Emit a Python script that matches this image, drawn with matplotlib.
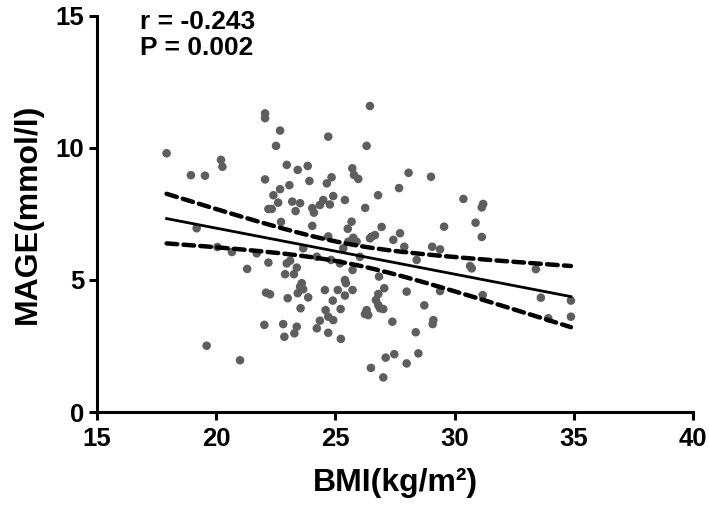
import numpy as np
import matplotlib
matplotlib.use("Agg")
import matplotlib.pyplot as plt

# BMI vs MAGE
bmi = [17.92, 22.05, 22.05, 22.68, 22.51, 24.70, 18.94, 19.53, 20.20, 20.26,
       22.05, 22.96, 23.42, 23.84, 23.91, 24.64, 23.07, 22.68, 22.40, 22.60,
       23.19, 23.52, 22.19, 22.33, 23.33, 24.03, 24.10, 24.35, 24.49, 24.77,
       22.72, 24.03, 19.18, 20.05, 20.66, 24.70, 26.45, 26.31, 24.84, 25.71,
       25.78, 25.96, 28.07, 29.01, 27.67, 26.79, 24.91, 25.40, 26.25, 30.37,
       31.20, 31.14, 25.68, 25.52, 26.94, 29.56, 30.88, 31.14, 25.75, 25.89,
       26.52, 26.66, 26.45, 27.71, 27.43, 27.89, 29.06, 29.39, 25.54, 21.70,
       22.19, 21.30, 22.96, 23.10, 23.38, 22.89, 23.26, 23.59, 23.52, 23.65,
       23.42, 22.09, 22.26, 23.00, 23.86, 24.56, 23.54, 24.59, 22.02, 22.81,
       23.38, 23.28, 22.86, 24.35, 24.22, 24.70, 19.60, 21.00, 23.65, 24.22,
       24.82, 25.19, 25.33, 26.03, 28.41, 30.65, 30.72, 25.72, 26.83, 25.40,
       25.44, 25.10, 25.72, 27.05, 26.80, 27.99, 29.39, 31.18, 25.40, 24.89,
       26.70, 26.80, 26.87, 27.01, 25.22, 26.31, 26.24, 26.38, 28.73, 24.70,
       24.91, 27.39, 29.11, 29.08, 25.23, 28.37, 27.11, 27.47, 28.48, 27.99,
       26.49, 27.01, 33.41, 33.62, 34.88, 34.88, 33.93]
mage = [9.80, 11.31, 11.13, 10.66, 10.08, 10.43, 8.97, 8.95, 9.55, 9.29,
        8.81, 9.36, 9.17, 9.32, 8.75, 8.66, 8.59, 8.44, 8.21, 7.93,
        7.97, 7.91, 7.69, 7.69, 7.61, 7.72, 7.55, 7.84, 8.03, 7.86,
        7.20, 7.05, 6.96, 6.25, 6.06, 6.65, 11.59, 10.08, 8.89, 9.23,
        8.98, 8.83, 9.06, 8.91, 8.48, 8.21, 8.18, 8.03, 7.73, 8.07,
        7.88, 7.75, 7.21, 6.94, 7.01, 7.02, 7.17, 6.63, 6.60, 6.45,
        6.64, 6.70, 6.58, 6.77, 6.52, 6.26, 6.26, 6.16, 6.45, 6.01,
        5.66, 5.42, 5.63, 5.73, 5.47, 5.22, 5.22, 4.88, 4.75, 4.65,
        4.50, 4.52, 4.46, 4.31, 4.34, 4.62, 3.93, 3.86, 3.30, 3.33,
        3.23, 2.98, 2.85, 3.46, 3.17, 3.00, 2.51, 1.96, 6.20, 5.88,
        5.76, 5.63, 6.20, 5.88, 5.76, 5.53, 5.44, 5.38, 5.13, 5.00,
        4.88, 4.62, 4.62, 4.69, 4.47, 4.56, 4.58, 4.43, 4.41, 4.22,
        4.24, 4.05, 3.93, 3.90, 3.90, 3.86, 3.71, 3.67, 4.04, 3.61,
        3.48, 3.42, 3.48, 3.33, 2.77, 3.02, 2.06, 2.19, 2.22, 1.84,
        1.67, 1.31, 5.41, 4.33, 4.22, 3.61, 3.55]
stats_text = ["r = -0.243", "P = 0.002"]
x_ticks = [15, 20, 25, 30, 35, 40]
y_ticks = [0, 5, 10, 15]

x = np.array(bmi)
y = np.array(mage)

# linear fit with 95% confidence band
n = len(x)
slope, intercept = np.polyfit(x, y, 1)
resid = y - (slope * x + intercept)
s = np.sqrt(np.sum(resid ** 2) / (n - 2))
sxx = np.sum((x - x.mean()) ** 2)
t_crit = 1.976
xs = np.linspace(x.min(), x.max(), 200)
ys = slope * xs + intercept
half = t_crit * s * np.sqrt(1.0 / n + (xs - x.mean()) ** 2 / sxx)

plt.rcParams['font.family'] = ['Liberation Sans', 'DejaVu Sans']
plt.rcParams['font.weight'] = 'bold'

fig = plt.figure(figsize=(7.09, 5.12), dpi=100)
ax = fig.add_axes([0.1368, 0.1953, 0.8406, 0.7735])

ax.scatter(x, y, s=38, color='#5e5e5e', edgecolors='none', zorder=2, clip_on=False)
ax.plot(xs, ys, color='black', lw=2.0, zorder=3)
for band in (ys + half, ys - half):
    ax.plot(xs, band, color='black', lw=3.2, linestyle=(0, (2.4, 1.4)),
            dash_capstyle='round', zorder=3)

ax.set_xlim(15, 40)
ax.set_ylim(0, 15)
ax.set_xticks(x_ticks)
ax.set_yticks(y_ticks)
ax.spines['top'].set_visible(False)
ax.spines['right'].set_visible(False)
for sp in ('left', 'bottom'):
    ax.spines[sp].set_linewidth(2.2)
ax.tick_params(width=2.2, length=6, labelsize=18.5, pad=3)
ax.tick_params(axis='x', pad=5)
for lab in ax.get_xticklabels() + ax.get_yticklabels():
    lab.set_fontweight('bold')

ax.set_xlabel("BMI(kg/m²)", fontsize=23, fontweight='bold', labelpad=12)
ax.set_ylabel("MAGE(mmol/l)", fontsize=23, fontweight='bold', labelpad=9)

fig.text(140 / 709, 1 - 10 / 512, stats_text[0], fontsize=19, fontweight='bold', va='top')
fig.text(140 / 709, 1 - 36 / 512, stats_text[1], fontsize=19, fontweight='bold', va='top')

fig.savefig('out.png', dpi=100)
